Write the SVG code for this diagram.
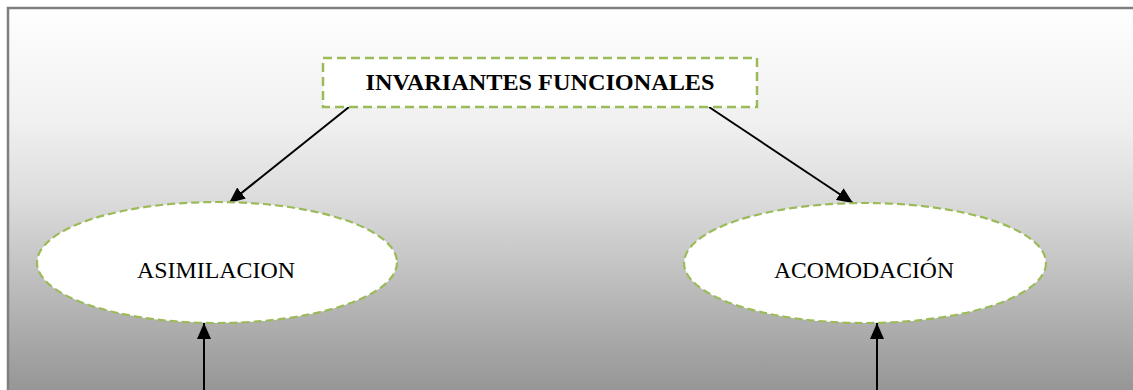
<svg xmlns="http://www.w3.org/2000/svg" width="1133" height="390" viewBox="0 0 1133 390">
<defs>
<linearGradient id="bg" x1="0" y1="8" x2="0" y2="390" gradientUnits="userSpaceOnUse">
<stop offset="0" stop-color="#fefefe"/>
<stop offset="0.3" stop-color="#f0f0f0"/>
<stop offset="0.5" stop-color="#dcdcdc"/>
<stop offset="1" stop-color="#969696"/>
</linearGradient>
<marker id="ah" markerWidth="16" markerHeight="14" refX="16" refY="7" orient="auto" markerUnits="userSpaceOnUse" viewBox="0 0 16 14">
<path d="M0,0 L16,7 L0,14 Z" fill="#000"/>
</marker>
<style>
.node{fill:#fff;stroke:#9bbb59;stroke-width:2.5;stroke-dasharray:9 5}
.ell{fill:#fff;stroke:#9bbb59;stroke-width:2.2;stroke-dasharray:8 4}
.lbl{font-family:"Liberation Serif","Times New Roman",serif;font-size:23px;fill:#000;text-anchor:middle}
.bold{font-weight:bold}
.conn{stroke:#000;stroke-width:2;fill:none;marker-end:url(#ah)}
</style>
</defs>
<rect x="0" y="0" width="1133" height="390" fill="#fff"/>
<rect x="8" y="8" width="1140" height="400" fill="url(#bg)" stroke="#7f7f7f" stroke-width="2.5"/>
<g id="connectors">
<line class="conn" x1="349" y1="107" x2="229" y2="203"/>
<line class="conn" x1="709" y1="107" x2="853" y2="203"/>
<line class="conn" x1="204" y1="392" x2="204" y2="323"/>
<line class="conn" x1="877" y1="392" x2="877" y2="323"/>
</g>
<g id="invariantes">
<rect class="node" x="323" y="58" width="434" height="49"/>
<text class="lbl bold" x="540" y="90" textLength="349" lengthAdjust="spacingAndGlyphs">INVARIANTES FUNCIONALES</text>
</g>
<g id="asimilacion">
<ellipse class="ell" cx="217" cy="262.5" rx="180" ry="60.5"/>
<text class="lbl" x="216" y="278" font-size="24" textLength="158" lengthAdjust="spacingAndGlyphs">ASIMILACION</text>
</g>
<g id="acomodacion">
<ellipse class="ell" cx="865" cy="263" rx="181" ry="60"/>
<text class="lbl" x="864" y="278" font-size="24" textLength="180" lengthAdjust="spacingAndGlyphs">ACOMODACIÓN</text>
</g>
</svg>
